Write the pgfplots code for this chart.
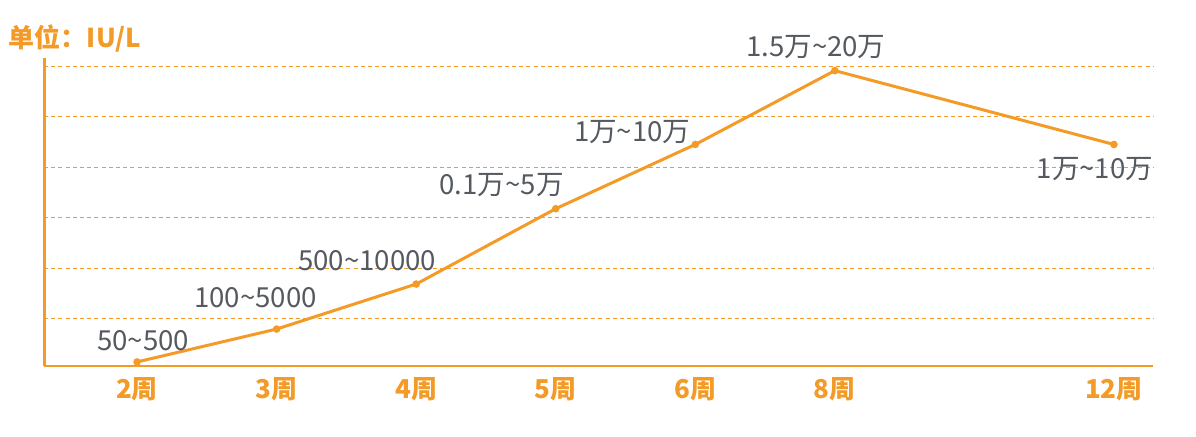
\documentclass[border=0pt]{standalone}
\usepackage{pgfplots}
\pgfplotsset{compat=1.18}
\usepackage{fontspec}
\setmainfont{Noto Sans CJK SC}
\definecolor{orangeC}{HTML}{F39A27}
\definecolor{grayT}{HTML}{555A60}
\begin{document}
\begin{tikzpicture}
\path[use as bounding box] (-22pt,-35.5pt) rectangle (576pt,183pt);
\begin{axis}[
  scale only axis, width=554.5pt, height=154pt,
  xmin=-0.667, xmax=7.28, ymin=0.07, ymax=6.16,
  axis x line=bottom, axis y line=left,
  x axis line style={draw=orangeC, line width=0.6pt, -},
  y axis line style={draw=orangeC, line width=1.5pt, -},
  xtick={0,1,2,3,4,5,7},
  xticklabels={2周,3周,4周,5周,6周,8周,12周},
  ytick={1,2,3,4,5,6}, yticklabels={},
  major tick length=0pt,
  ymajorgrids,
  grid style={draw=orangeC, line width=0.5pt, dash pattern=on 2pt off 1.6pt},
  xticklabel style={font=\fontsize{13}{15}\selectfont\bfseries, text=orangeC, yshift=-2pt},
  clip=false,
]
\addplot[draw=orangeC, line width=1.5pt, mark=*, mark size=1.1pt, mark options={fill=orangeC, draw=orangeC}]
  coordinates {(0,0.15) (1,0.80) (2,1.69) (3,3.18) (4,4.45) (5,5.91) (7,4.45)};
\begin{scope}[every node/.style={text=grayT, font=\fontsize{13.8}{16}\selectfont}]
\node[xshift=3pt, yshift=10.5pt] at (axis cs:0,0.15) {50\textasciitilde500};
\node[xshift=-10.5pt, yshift=15.5pt] at (axis cs:1,0.80) {100\textasciitilde5000};
\node[xshift=-24.5pt, yshift=11.5pt] at (axis cs:2,1.69) {500\textasciitilde10000};
\node[xshift=-27pt, yshift=12pt] at (axis cs:3,3.18) {0.1万\textasciitilde5万};
\node[xshift=-31.5pt, yshift=6pt] at (axis cs:4,4.45) {1万\textasciitilde10万};
\node[xshift=-9.5pt, yshift=12pt] at (axis cs:5,5.91) {1.5万\textasciitilde20万};
\node[xshift=-9.5pt, yshift=-12.5pt] at (axis cs:7,4.45) {1万\textasciitilde10万};
\end{scope}
\end{axis}
\node[text=orangeC, font=\fontsize{13}{15}\selectfont\bfseries] at (15.5pt,163.5pt) {单位：IU/L};
\end{tikzpicture}
\end{document}
